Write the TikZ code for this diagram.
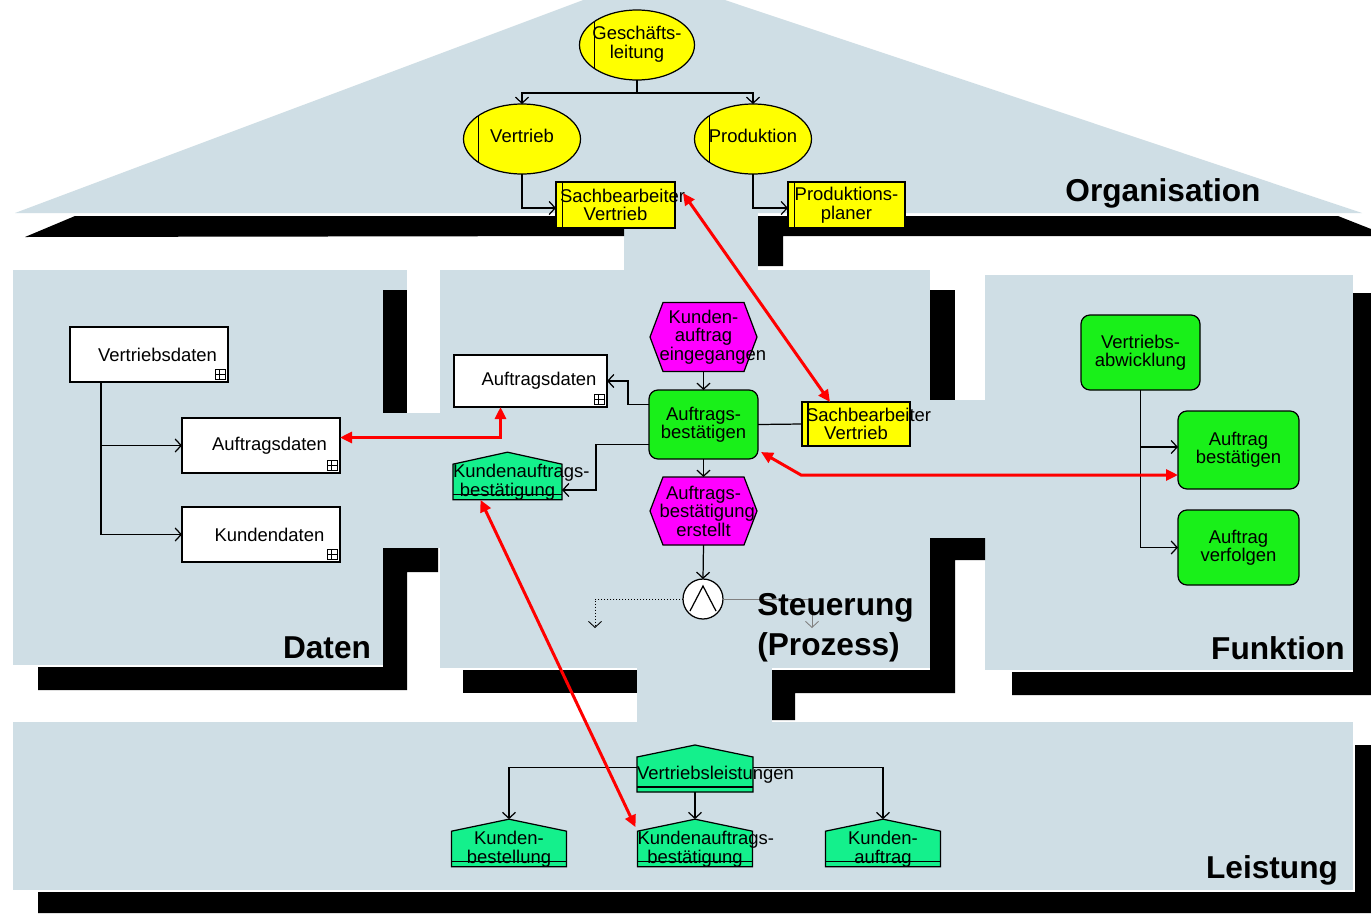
\documentclass[tikz,border=0pt]{standalone}
\usepackage{fontspec}
\setmainfont{Liberation Sans}
\usetikzlibrary{arrows.meta,calc,shapes.geometric}
\pgfdeclarelayer{back}
\pgfdeclarelayer{shp}
\pgfsetlayers{back,shp,main}
\definecolor{panel}{RGB}{207,222,229}
\definecolor{ygelb}{RGB}{255,255,0}
\definecolor{magen}{RGB}{255,0,255}
\definecolor{fgreen}{RGB}{25,240,25}
\definecolor{hgreen}{RGB}{20,240,140}
\newcommand\pxl[1]{#1*0.2mm}
\newcommand\ndfont{\fontsize{10.5}{10.5}\selectfont\hyphenpenalty=10000\exhyphenpenalty=10000\hbadness=10000\hfuzz=200pt}
\newcommand\lblfont{\fontsize{18}{23}\selectfont\bfseries}
\newcommand\ov[1]{\makebox[0pt]{\raisebox{-3pt}{\begin{tabular}{@{}c@{}}#1\end{tabular}}}}
\tikzset{
 base/.style={inner sep=0pt, outer sep=0pt, align=center, font=\ndfont},
 sz/.style 2 args={minimum width=\pxl{#1}, minimum height=\pxl{#2}},
 tw/.style={text width=\pxl{#1}},
 conn/.style={line width=0.7pt, -{Straight Barb[length=1.2mm,width=2.6mm]}},
 plain/.style={line width=0.7pt},
 redarr/.style={draw=red, line width=1.7pt, {Triangle[length=2.4mm,width=2.2mm]}-{Triangle[length=2.4mm,width=2.2mm]}},
 orgunit/.style={base, ellipse, draw, line width=0.7pt, fill=ygelb, sz={117}{70},
   path picture={\draw[line width=0.7pt] ($(path picture bounding box.north west)!0.13!(path picture bounding box.north east)$) -- ($(path picture bounding box.south west)!0.13!(path picture bounding box.south east)$);}},
 role/.style={base, rectangle, draw, line width=0.7pt, fill=ygelb,
   path picture={\draw[line width=0.7pt] ($(path picture bounding box.north west)!0.055!(path picture bounding box.north east)$) -- ($(path picture bounding box.south west)!0.055!(path picture bounding box.south east)$);}},
 func/.style={base, rectangle, rounded corners=\pxl{9}, draw, line width=0.7pt, fill=fgreen},
 data/.style={base, rectangle, draw, line width=0.7pt, fill=white, sz={158}{55}, tw=150, execute at begin node={\hspace*{3.4mm}}},
 event/.style={base, sz={107}{69}, tw=88},
 leist/.style={base, sz={115}{34}, tw=115},
 lbl/.style={font=\lblfont, inner sep=0pt},
 beam/.style={fill=black},
 pan/.style={fill=panel},
}
\newcommand\hexa[1]{\begin{pgfonlayer}{shp}\filldraw[fill=magen,line width=0.7pt] (#1.west) -- ($(#1.north west)+(13,0)$) -- ($(#1.north east)+(-13,0)$) -- (#1.east) -- ($(#1.south east)+(-13,0)$) -- ($(#1.south west)+(13,0)$) -- cycle;\end{pgfonlayer}}
\newcommand\house[1]{\begin{pgfonlayer}{shp}\filldraw[fill=hgreen,line width=0.7pt] (#1.south west) -- (#1.north west) -- ($(#1.north)+(0,-12)$) -- (#1.north east) -- (#1.south east) -- cycle;
 \draw[line width=0.7pt] ($(#1.south west)+(0,-5)$) -- ($(#1.south east)+(0,-5)$);\end{pgfonlayer}}
\newcommand\dicon[1]{\draw[line width=0.4pt] ($(#1.south east)+(-13,-3)$) rectangle ($(#1.south east)+(-3,-13)$);
 \draw[line width=0.4pt] ($(#1.south east)+(-13,-8)$) -- ($(#1.south east)+(-3,-8)$);
 \draw[line width=0.4pt] ($(#1.south east)+(-9,-3)$) -- ($(#1.south east)+(-9,-13)$);}
\begin{document}
\begin{tikzpicture}[x=0.2mm,y=-0.2mm]
\useasboundingbox (0,0) rectangle (1371,913);
\begin{pgfonlayer}{back}
\fill[white] (0,0) rectangle (1371,913);
\fill[pan] (15,213) -- (650,-25) -- (1362,213) -- cycle;
\fill[pan] (624,210) rectangle (758,272);
\fill[pan] (13,270) rectangle (407,665);
\fill[pan] (407,413) rectangle (440,548);
\fill[pan] (440,270) rectangle (930,668);
\fill[pan] (930,400) rectangle (985,538);
\fill[pan] (985,275) rectangle (1353,670);
\fill[pan] (637,665) rectangle (772,725);
\fill[pan] (13,722) rectangle (1353,890);
\fill[beam] (25,237) -- (75,216) -- (624,216) -- (624,236) -- cycle;
\fill[beam] (758,266) -- (758,216) -- (1338,216) -- (1371,229) -- (1371,236) -- (783,236) -- (783,266) -- cycle;
\fill[beam] (383,290) rectangle (407,413);
\fill[beam] (383,548) -- (438,548) -- (438,572) -- (407,572) -- (407,690) -- (38,690) -- (38,667) -- (383,667) -- cycle;
\fill[beam] (463,670) rectangle (637,693);
\fill[beam] (930,290) rectangle (955,400);
\fill[beam] (930,538) -- (985,538) -- (985,560) -- (955,560) -- (955,693) -- (795,693) -- (795,720) -- (772,720) -- (772,670) -- (930,670) -- cycle;
\fill[beam] (1353,293) -- (1371,293) -- (1371,695) -- (1012,695) -- (1012,672) -- (1353,672) -- cycle;
\fill[beam] (1355,745) -- (1371,745) -- (1371,913) -- (38,913) -- (38,892) -- (1355,892) -- cycle;
\end{pgfonlayer}

% ---- Organisation
\node[orgunit, sz={115}{70}] (gl) at (637,45) {\ov{Geschäfts-\\leitung}};
\node[orgunit] (vt) at (522,139) {\ov{Vertrieb}};
\node[orgunit] (pr) at (753,139) {\ov{Produktion}};
\node[role, sz={119}{46}, tw=111] (sb1) at (615.5,205) {Sachbearbeiter\\Vertrieb};
\node[role, sz={117}{46}, tw=109] (pp) at (846.5,205) {Produktions-\\planer};
\draw[conn] (gl.south) -- ++(0,13) -| (vt.north);
\draw[conn] (gl.south) ++(0,13) -| (pr.north);
\draw[conn] (vt.south) |- ([yshift=-\pxl{3}]sb1.west);
\draw[conn] (pr.south) |- ([yshift=-\pxl{3}]pp.west);

% ---- Daten
\node[data] (vd) at (149,354.5) {Vertriebsdaten};
\node[data] (ad1) at (261,445.5) {Auftragsdaten};
\node[data] (kd) at (261,534.5) {Kundendaten};
\dicon{vd}\dicon{ad1}\dicon{kd}
\draw[conn] ([xshift=\pxl{31}]vd.south west) |- (ad1.west);
\draw[conn] ([xshift=\pxl{31}]vd.south west) |- (kd.west);

% ---- Steuerung
\node[event] (ke) at (703.5,337) {Kunden-\\auftrag\\eingegangen};
\hexa{ke}
\node[func, sz={109}{69}, tw=101] (ab) at (703.5,424.5) {Auftrags-\\bestätigen};
\node[event, sz={107}{68}] (ae) at (703.5,511) {Auftrags-\\bestätigung\\erstellt};
\hexa{ae}
\node[base, circle, draw, line width=0.7pt, fill=white, minimum size=\pxl{40}] (op) at (703,599) {};
\draw[line width=0.7pt] ($(op.center)+(-13,12)$) -- ($(op.center)+(0,-13)$) -- ($(op.center)+(13,12)$);
\node[data, sz={153}{52}, tw=145] (ad2) at (530.5,381) {Auftragsdaten};
\dicon{ad2}
\node[base, sz={109}{30}, tw=109] (kb2) at (507.5,482) {Kundenauftrags-\\bestätigung};
\house{kb2}
\node[role, sz={108}{44}, tw=100] (sb2) at (856,424) {Sachbearbeiter\\Vertrieb};
\coordinate (dl) at (595,628);
\coordinate (dr) at (812,628);
\draw[conn] (ke.south) -- (ab.north);
\draw[conn] (ab.south) -- (ae.north);
\draw[conn] (ae.south) -- (op.north);
\draw[conn, densely dotted, line width=0.5pt] (op.west) -| (dl);
\draw[conn, gray, line width=0.5pt] (op.east) -| (dr);
\draw[conn] ([yshift=\pxl{20}]ab.west) -- ++(-21,0) |- (ad2.east);
\draw[conn] ([yshift=-\pxl{20}]ab.west) -- ++(-53,0) |- ([yshift=-\pxl{8}]kb2.east);
\draw[plain] (ab.east) -- (sb2.west);

% ---- Funktion
\node[func, sz={119}{75}, tw=111] (va) at (1140.5,352.5) {Vertriebs-\\abwicklung};
\node[func, sz={121}{78}, tw=113] (abt) at (1238.5,450) {Auftrag\\bestätigen};
\node[func, sz={121}{75}, tw=113] (av) at (1238.5,547.5) {Auftrag\\verfolgen};
\draw[conn] (va.south) |- ([yshift=\pxl{3}]abt.west);
\draw[conn] (va.south) |- (av.west);

% ---- Leistung
\node[leist, sz={116}{35}, tw=116] (vl) at (695,774.5) {Vertriebsleistungen};
\house{vl}
\node[leist] (kbe) at (509,849) {Kunden-\\bestellung};
\house{kbe}
\node[leist] (kb3) at (695,849) {Kundenauftrags-\\bestätigung};
\house{kb3}
\node[leist] (ka) at (883,849) {Kunden-\\auftrag};
\house{ka}
\draw[conn] ([yshift=\pxl{7}]vl.west) -| ([yshift=\pxl{12}]kbe.north);
\draw[conn] (vl.south) -- ([yshift=\pxl{12}]kb3.north);
\draw[conn] ([yshift=\pxl{7}]vl.east) -| ([yshift=\pxl{12}]ka.north);

% ---- red relations
\draw[redarr] ($(sb1.north east)+(8,11)$) -- ([xshift=-\pxl{26}]sb2.north);
\draw[redarr] ([yshift=\pxl{8}]ad1.east) -| ([xshift=-\pxl{30}]ad2.south);
\draw[redarr] ($(ab.south east)+(3,-7)$) -- ++(40,23) -- ([yshift=-\pxl{25}]abt.west);
\draw[redarr] ([xshift=-\pxl{27}]kb2.south) -- ($(kb3.north west)+(-2,-4)$);

% ---- labels
\node[lbl] (lorg) at (1163,193) {Organisation};
\node[lbl] (ldat) at (327,648) {Daten};
\node[lbl, align=left, anchor=west] (lste) at (757,628) {Steuerung\\(Prozess)};
\node[lbl] (lfun) at (1278,648) {Funktion};
\node[lbl] (llei) at (1272,870) {Leistung};
\end{tikzpicture}
\end{document}
